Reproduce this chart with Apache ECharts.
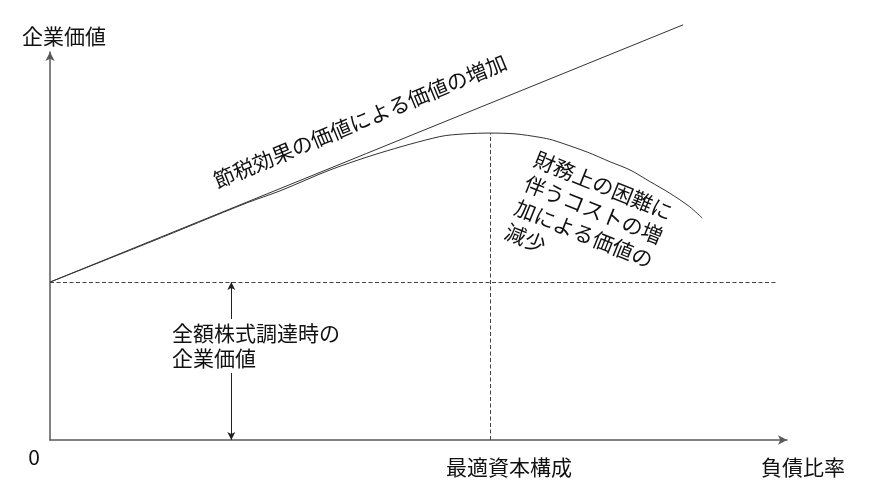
<!DOCTYPE html>
<html><head><meta charset="utf-8">
<script src="https://cdn.jsdelivr.net/npm/echarts@6/dist/echarts.min.js"></script>
<style>html,body{margin:0;padding:0;background:#fff}#c{width:880px;height:504px}</style>
</head><body><div id="c"></div>
<script>
// data (conceptual units: debt ratio 0-100, firm value 0-100)
const taxShieldX = [0, 85.9];
const taxShieldY = [40.7, 107];
const firmValueX = [0, 13.6, 26.7, 31.2, 38.0, 44.8, 52.9, 56.3, 59.7, 63.1, 66.5, 68.2, 72.9, 76.0, 78.7, 81.4, 84.1, 86.8, 88.5];
const firmValueY = [40.7, 51.0, 61.1, 64.2, 69.6, 74.0, 78.2, 78.9, 79.1, 78.9, 78.0, 77.3, 74.2, 71.7, 69.6, 66.6, 63.6, 60.1, 57.2];
const unleveredValue = 40.7;
const optimalDebt = 59.7;
const optimalValue = 79.1;
const equityArrowX = 24.6;
const dashedEndX = 98.6;

const labelYAxis = '企業価値';
const labelXAxis = '負債比率';
const labelOrigin = '0';
const labelOptimal = '最適資本構成';
const labelTaxShield = '節税効果の価値による価値の増加';
const labelDistress = '財務上の困難に\n伴うコストの増\n加による価値の\n減少';
const labelEquity = '全額株式調達時の\n企業価値';

const chart = echarts.init(document.getElementById('c'));
const FONT = '"Noto Sans CJK JP", "Noto Sans", sans-serif';
const TXT = '#111';
const deg = Math.PI / 180;
function txt(text, x, y, align, valign, extra) {
  return Object.assign({
    type: 'text', x: x, y: y, z: 100,
    style: Object.assign({
      text: text, fill: TXT, fontSize: 21, fontFamily: FONT,
      textAlign: align, textVerticalAlign: valign, align: align, verticalAlign: valign
    }, (extra && extra.style) || {})
  }, extra ? { rotation: extra.rotation || 0 } : {});
}

const axisCommon = {
  type: 'value', min: 0, max: 100,
  axisLine: { show: true, onZero: false, symbol: ['none', 'arrow'], symbolSize: [7, 9],
    lineStyle: { color: '#595959', width: 1.5 } },
  axisTick: { show: false }, axisLabel: { show: false }, splitLine: { show: false }
};

chart.setOption({
  backgroundColor: '#fff',
  animation: false,
  grid: { left: 50, top: 52, width: 737, height: 388 },
  xAxis: axisCommon,
  yAxis: axisCommon,
  series: [
    {
      type: 'line', clip: false, symbol: 'none', silent: true,
      lineStyle: { color: '#333', width: 1 },
      data: taxShieldX.map((x, i) => [x, taxShieldY[i]])
    },
    {
      type: 'line', clip: false, symbol: 'none', silent: true, smooth: 0.3,
      lineStyle: { color: '#333', width: 1 },
      data: firmValueX.map((x, i) => [x, firmValueY[i]]),
      markLine: {
        silent: true, symbol: ['none', 'none'], label: { show: false },
        lineStyle: { color: '#444', width: 1, type: [4, 2.5] },
        emphasis: { disabled: true },
        data: [
          [{ coord: [0, unleveredValue] }, { coord: [dashedEndX, unleveredValue] }],
          [{ coord: [optimalDebt, 0] }, { coord: [optimalDebt, optimalValue] }]
        ]
      }
    },
    {
      type: 'line', clip: false, symbol: 'none', silent: true,
      data: [],
      markLine: {
        silent: true, symbol: ['arrow', 'arrow'], symbolSize: [6, 8], label: { show: false },
        lineStyle: { color: '#222', width: 1, type: 'solid' },
        emphasis: { disabled: true },
        data: [
          [{ coord: [equityArrowX, 0] }, { coord: [equityArrowX, unleveredValue] }]
        ]
      }
    }
  ],
  graphic: [
    txt(labelYAxis, 64, 36, 'center', 'middle'),
    txt(labelXAxis, 803, 467, 'center', 'middle'),
    txt(labelOrigin, 34, 457, 'center', 'middle'),
    txt(labelOptimal, 509, 467, 'center', 'middle'),
    txt(labelEquity, 170, 346, 'left', 'middle', { style: { lineHeight: 25, backgroundColor: '#fff', padding: [2, 2] } }),
    txt(labelTaxShield, 360, 121, 'center', 'middle', { rotation: 22.5 * deg }),
    txt(labelDistress, 540, 146, 'left', 'top', { rotation: -22 * deg, style: { lineHeight: 26 } })
  ]
});
</script>
</body></html>
